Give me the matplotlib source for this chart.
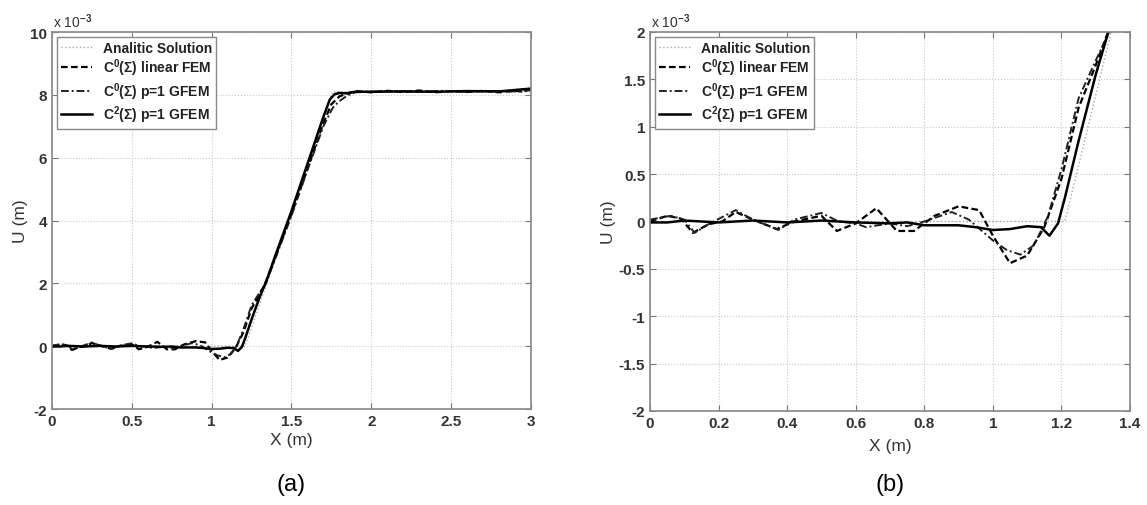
import matplotlib
matplotlib.use("Agg")
import matplotlib.pyplot as plt

plt.rcParams['font.family'] = ['Liberation Sans', 'DejaVu Sans']
plt.rcParams['font.weight'] = 'bold'
plt.rcParams['mathtext.fontset'] = 'custom'
plt.rcParams['mathtext.rm'] = 'Liberation Sans:bold'
plt.rcParams['mathtext.it'] = 'Liberation Sans:italic:bold'
plt.rcParams['mathtext.bf'] = 'Liberation Sans:bold'

# values in units of 1e-3 m
x_exact = [0.0, 1.21, 1.757, 3.0]
u_exact = [0.0, 0.0, 8.1, 8.1]

x_fem = [0.0, 0.05, 0.09, 0.125, 0.17, 0.21, 0.25, 0.30, 0.37, 0.42, 0.50, 0.545,
         0.60, 0.66, 0.72, 0.77, 0.83, 0.90, 0.96, 1.00, 1.05, 1.10, 1.15, 1.20,
         1.25, 1.30, 1.336, 1.40, 1.50, 1.60, 1.70, 1.75, 1.80, 1.85, 1.90, 2.00,
         2.10, 2.20, 2.30, 2.40, 2.50, 2.60, 2.70, 2.80, 2.90, 2.95, 3.00]
u_fem = [0.0, 0.06, 0.03, -0.12, -0.03, 0.0, 0.10, 0.02, -0.08, 0.0, 0.06, -0.10,
         -0.02, 0.14, -0.10, -0.10, 0.06, 0.16, 0.12, -0.15, -0.44, -0.36, -0.06, 0.45,
         1.20, 1.65, 2.00, 2.85, 4.20, 5.65, 7.10, 7.70, 7.95, 8.05, 8.12, 8.08,
         8.13, 8.09, 8.14, 8.08, 8.12, 8.09, 8.13, 8.08, 8.13, 8.10, 8.18]

x_gfem0 = [0.0, 0.06, 0.10, 0.13, 0.17, 0.25, 0.30, 0.375, 0.42, 0.50, 0.55, 0.60,
           0.63, 0.70, 0.75, 0.80, 0.88, 0.93, 1.00, 1.04, 1.08, 1.12, 1.16, 1.20,
           1.25, 1.30, 1.34, 1.40, 1.50, 1.60, 1.70, 1.76, 1.80, 1.85, 1.90, 2.00,
           2.15, 2.30, 2.45, 2.60, 2.75, 2.90, 3.00]
u_gfem0 = [0.02, 0.06, 0.02, -0.12, -0.03, 0.12, 0.02, -0.09, 0.02, 0.09, 0.0, -0.02,
           -0.06, -0.02, -0.05, 0.0, 0.10, 0.02, -0.20, -0.30, -0.35, -0.25, 0.05, 0.55,
           1.30, 1.70, 2.00, 2.80, 4.15, 5.60, 7.00, 7.60, 7.80, 7.98, 8.08, 8.10,
           8.12, 8.10, 8.13, 8.10, 8.12, 8.11, 8.15]

x_gfem2 = [0.0, 0.05, 0.10, 0.15, 0.20, 0.30, 0.40, 0.50, 0.60, 0.70, 0.75, 0.80,
           0.90, 0.95, 1.00, 1.05, 1.10, 1.14, 1.165, 1.19, 1.21, 1.25, 1.30, 1.345,
           1.40, 1.50, 1.60, 1.70, 1.74, 1.77, 1.80, 1.85, 1.90, 2.00, 2.20, 2.40,
           2.60, 2.80, 3.00]
u_gfem2 = [-0.01, -0.01, 0.01, 0.0, -0.01, 0.01, -0.01, 0.01, -0.01, -0.02, -0.01, -0.04,
           -0.04, -0.06, -0.09, -0.08, -0.05, -0.06, -0.15, -0.02, 0.25, 0.85, 1.55, 2.10,
           2.90, 4.30, 5.80, 7.30, 7.85, 8.02, 8.06, 8.05, 8.10, 8.10, 8.11, 8.10,
           8.12, 8.11, 8.20]

labels = ['Analitic Solution', r'C$^0$($\Sigma$) linear FEM',
          r'C$^0$($\Sigma$) p=1 GFEM', r'C$^2$($\Sigma$) p=1 GFEM']

fig = plt.figure(figsize=(11.47, 5.06), dpi=100)
ax1 = fig.add_axes([0.0453, 0.1897, 0.4176, 0.745])
ax2 = fig.add_axes([0.5667, 0.1858, 0.4185, 0.749])

panels = [
    (ax1, (0, 3), (-2, 10), [0, 0.5, 1, 1.5, 2, 2.5, 3], [-2, 0, 2, 4, 6, 8, 10]),
    (ax2, (0, 1.4), (-2, 2), [0, 0.2, 0.4, 0.6, 0.8, 1, 1.2, 1.4],
     [-2, -1.5, -1, -0.5, 0, 0.5, 1, 1.5, 2]),
]

for ax, xl, yl, xt, yt in panels:
    ax.plot(x_exact, u_exact, color='#a8a8a8', ls=':', lw=1.0, label=labels[0])
    ax.plot(x_fem, u_fem, color='black', ls=(0, (3, 1.5)), lw=1.6, label=labels[1])
    ax.plot(x_gfem0, u_gfem0, color='#222222', ls=(0, (4, 1.5, 1, 1.5)), lw=1.4, label=labels[2])
    ax.plot(x_gfem2, u_gfem2, color='black', ls='-', lw=1.8, label=labels[3])
    ax.set_xlim(*xl)
    ax.set_ylim(*yl)
    ax.set_xticks(xt)
    ax.set_yticks(yt)
    ax.set_xticklabels([('%g' % v) for v in xt])
    ax.set_yticklabels([('%g' % v) for v in yt])
    ax.grid(True, color='#c8c8c8', ls=':', lw=0.8)
    ax.tick_params(direction='in', top=True, right=True, length=4, labelsize=11,
                   color='#777777', labelcolor='#333333')
    for s in ax.spines.values():
        s.set_color('#888888')
        s.set_linewidth(1.2)
    ax.set_xlabel('X (m)', fontsize=12.5, color='#333333', fontweight='normal')
    ax.set_ylabel('U (m)', fontsize=12.5, color='#333333', fontweight='normal')
    ax.text(0.003, 1.005, r'x 10$^{-3}$', transform=ax.transAxes, ha='left', va='bottom',
            fontsize=10, color='#333333', fontweight='normal')
    leg = ax.legend(loc='upper left', fontsize=10, fancybox=False, framealpha=1,
                    edgecolor='#888888', borderaxespad=0.35, handlelength=2.2,
                    labelspacing=0.12, borderpad=0.3)
    leg.get_frame().set_linewidth(1.0)
    for t in leg.get_texts():
        t.set_color('#222222')
    ax.set_axisbelow(True)

ax1.yaxis.set_label_coords(-0.05, 0.5)
ax2.yaxis.set_label_coords(-0.07, 0.5)
ax1.xaxis.set_label_coords(0.5, -0.06)
ax2.xaxis.set_label_coords(0.5, -0.07)

fig.text(0.254, 0.041, '(a)', ha='center', va='center', fontsize=17, fontweight='normal')
fig.text(0.776, 0.041, '(b)', ha='center', va='center', fontsize=17, fontweight='normal')

fig.savefig('out.png', dpi=100)
